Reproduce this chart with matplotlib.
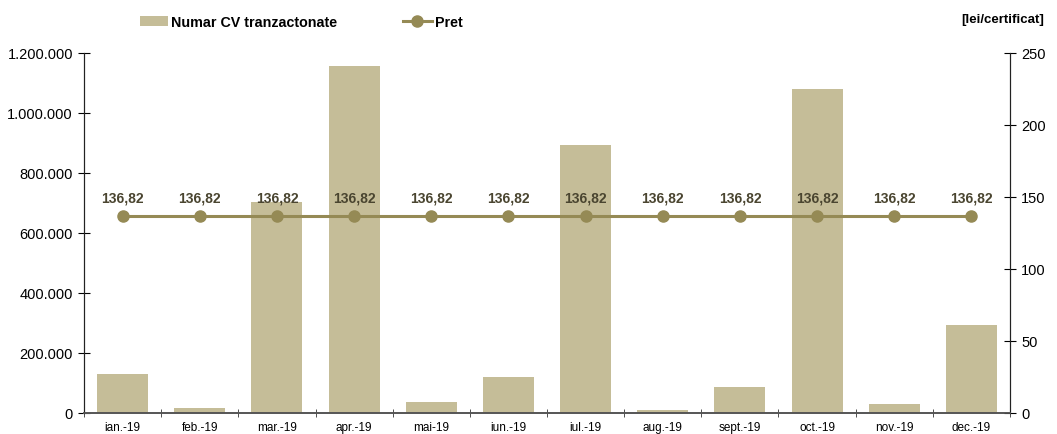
import matplotlib
matplotlib.use("Agg")
import matplotlib.pyplot as plt
from matplotlib.ticker import FuncFormatter, FixedLocator

plt.rcParams['font.family'] = ['Liberation Sans', 'DejaVu Sans']

months = ['ian.-19', 'feb.-19', 'mar.-19', 'apr.-19', 'mai-19', 'iun.-19',
          'iul.-19', 'aug.-19', 'sept.-19', 'oct.-19', 'nov.-19', 'dec.-19']
volume = [130000, 18000, 703000, 1157000, 35000, 120000,
          893000, 9000, 85000, 1080000, 31000, 293000]
price = [136.82] * 12
price_labels = ['136,82'] * 12

bar_color = '#c5bd98'
line_color = '#958a55'
text_dark = '#4a4530'

fig = plt.figure(figsize=(10.57, 4.35), dpi=100)
ax = fig.add_axes([0.0795, 0.0483, 0.876, 0.8277])
ax2 = ax.twinx()

x = list(range(len(months)))
bars = ax.bar(x, volume, width=0.66, color=bar_color, zorder=2)
ax.set_xlim(-0.5, 11.5)
ax.set_ylim(0, 1200000)
ax.set_yticks(range(0, 1200001, 200000))
ax.yaxis.set_major_formatter(FuncFormatter(lambda v, p: f"{int(v):,}".replace(',', '.')))

ax.set_xticks(x)
ax.set_xticklabels(months, fontsize=8.5)
ax.xaxis.set_minor_locator(FixedLocator([i + 0.5 for i in range(-1, 12)]))
ax.tick_params(axis='x', which='major', length=0, pad=6)
ax.tick_params(axis='x', which='minor', length=6, direction='inout', color='#333333')
ax.tick_params(axis='y', length=8, direction='inout', labelsize=10.5, pad=4)

line, = ax2.plot(x, price, color=line_color, linewidth=2.2, marker='o', markersize=8, zorder=3)
ax2.set_ylim(0, 250)
ax2.set_yticks(range(0, 251, 50))
ax2.tick_params(axis='y', length=8, direction='inout', labelsize=10.5, pad=4)

for xi, yi, lab in zip(x, price, price_labels):
    ax2.annotate(lab, (xi, yi), xytext=(0, 8), textcoords='offset points',
                 ha='center', va='bottom', fontsize=10, fontweight='bold', color=text_dark)

for a in (ax, ax2):
    a.spines['top'].set_visible(False)
    a.spines['left'].set_color('#222222')
    a.spines['right'].set_color('#222222')
    a.spines['bottom'].set_color('#555555')
    a.spines['bottom'].set_linewidth(1.2)

leg = fig.legend([bars, line], ['Numar CV tranzactonate', 'Pret'], loc='center left',
                 bbox_to_anchor=(0.120, 0.947), ncol=2, frameon=False, handlelength=2.0,
                 handletextpad=0.2, columnspacing=4.6, prop={'weight': 'bold', 'size': 10.3})

fig.text(0.988, 0.955, '[lei/certificat]', ha='right', va='center', fontsize=9.5, fontweight='bold')

fig.savefig('out.png', dpi=100)
